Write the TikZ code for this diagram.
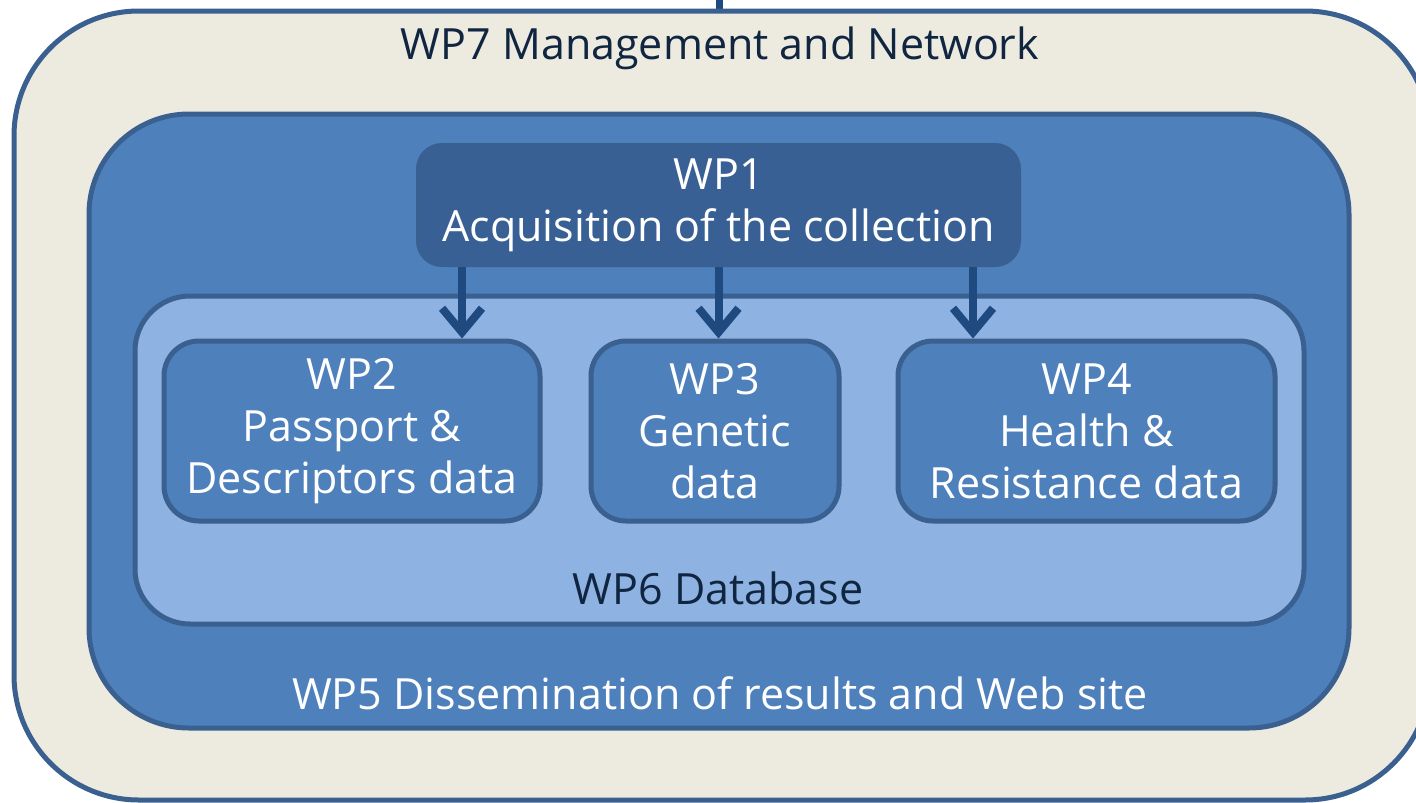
\documentclass[tikz,border=0pt]{standalone}
\usepackage{fontspec}
\setmainfont{Open Sans}
\usetikzlibrary{arrows.meta}

\definecolor{cream}{HTML}{EDEAE0}
\definecolor{rimblue}{HTML}{3A6090}
\definecolor{midblue}{HTML}{4E80BC}
\definecolor{paleblue}{HTML}{8EB2E2}
\definecolor{deepblue}{HTML}{386094}
\definecolor{arrowblue}{HTML}{1F4A80}
\definecolor{navytext}{HTML}{102540}

\tikzset{
  wpbox/.style={draw=rimblue, line width=5pt, inner sep=0pt},
  wplabel/.style={font=\fontsize{43}{52}\selectfont, align=center, inner sep=0pt},
  flow/.style={draw=arrowblue, line width=8pt,
    -{Straight Barb[length=24pt, width=40pt, line width=8pt]}}
}

\begin{document}
\begin{tikzpicture}[x=1pt, y=-1pt]
  \useasboundingbox (0,0) rectangle (1416,803);

  %% WP7 outer frame
  \draw[arrowblue, line width=7pt] (719,0) to (719,9);
  \node[wpbox, fill=cream, rounded corners=125pt,
        minimum width=1416pt, minimum height=789pt] (wpseven) at (722,405.5) {};
  \node[wplabel, text=navytext] (wpseventxt) at (720,48) {WP7 Management and Network};

  %% WP5 dissemination
  \node[wpbox, fill=midblue, rounded corners=100pt,
        minimum width=1260pt, minimum height=614pt] (wpfive) at (719,421) {};
  \node[wplabel, text=white] (wpfivetxt) at (720,693) {WP5 Dissemination of results and Web site};

  %% WP6 database
  \node[wpbox, fill=paleblue, rounded corners=55pt,
        minimum width=1169pt, minimum height=328pt] (wpsix) at (719.5,460) {};
  \node[wplabel, text=navytext] (wpsixtxt) at (718,588) {WP6 Database};

  %% WP1 acquisition
  \node[wplabel, draw=rimblue, line width=2pt, fill=deepblue, text=white,
        rounded corners=25pt, minimum width=603pt, minimum height=122pt]
        (wpone) at (718.5,205) {WP1\\Acquisition of the collection};

  %% WP2, WP3, WP4
  \node[wpbox, wplabel, fill=midblue, text=white, rounded corners=35pt,
        minimum width=376pt, minimum height=180pt]
        (wptwo) at (352,431) {WP2\\Passport \&\\Descriptors data};
  \node[wpbox, wplabel, fill=midblue, text=white, rounded corners=35pt,
        minimum width=248pt, minimum height=180pt]
        (wpthree) at (715,431) {WP3\\Genetic\\data};
  \node[wpbox, wplabel, fill=midblue, text=white, rounded corners=35pt,
        minimum width=377pt, minimum height=180pt]
        (wpfour) at (1086.5,431) {WP4\\Health \&\\Resistance data};

  %% arrows
  \draw[flow] ([xshift=46pt]wpone.south west) to ([xshift=46pt]wpone.south west |- wptwo.north);
  \draw[flow] (wpone.south) to (wpone.south |- wpthree.north);
  \draw[flow] ([xshift=-48pt]wpone.south east) to ([xshift=-48pt]wpone.south east |- wpfour.north);
\end{tikzpicture}
\end{document}
